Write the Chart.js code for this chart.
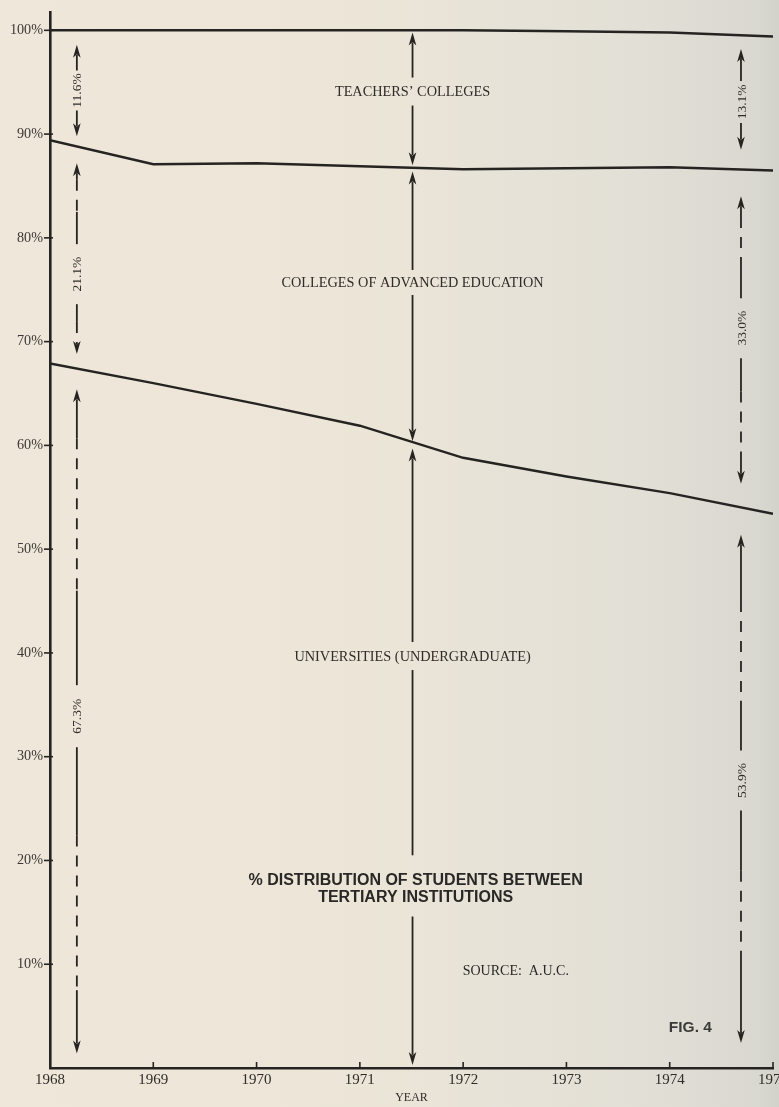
<!DOCTYPE html>
<html>
<head>
<meta charset="utf-8">
<script src="https://cdn.jsdelivr.net/npm/chart.js@4/dist/chart.umd.min.js"></script>
<style>
  html, body { margin: 0; padding: 0; overflow: hidden; background: #ece6d8; }
  #wrap { width: 800px; height: 1107px; }
</style>
</head>
<body>
<div id="wrap"><canvas id="c" width="800" height="1107"></canvas></div>
<script>
// ---- data (percent of students) ----
const years = [1968, 1969, 1970, 1971, 1972, 1973, 1974, 1975];
const totalPct = [100, 100, 100, 100, 100, 99.9, 99.8, 99.4];          // top boundary (100%)
const univPlusCaePct = [89.4, 87.1, 87.2, 86.9, 86.6, 86.7, 86.8, 86.5]; // universities + CAE
const univPct = [67.9, 66.0, 64.0, 61.9, 58.8, 57.0, 55.4, 53.4];        // universities
const yTickValues = [10, 20, 30, 40, 50, 60, 70, 80, 90, 100];
const xTickValues = [1968, 1969, 1970, 1971, 1972, 1973, 1974, 1975];

// dimension arrows: [year, top tip %, bottom tip %, label, label %, half gap px, rotation, dashed zones]
const leftArrows = [
  [1968.26, 98.6, 89.8, '11.6%', 94.2, 20, -90, []],
  [1968.26, 87.2, 68.8, '21.1%', 76.5, 30, -90, [[85.6, 82.5], [71.9, 69.6]]],
  [1968.26, 65.4, 1.4, '67.3%', 33.9, 31, -90, [[60.7, 46.0], [22.4, 7.5]]]
];
const rightArrows = [
  [1974.69, 98.2, 88.5, '13.1%', 93.1, 21, -90, []],
  [1974.69, 84.0, 56.3, '33.0%', 71.3, 30, -90, [[82.0, 77.2], [65.2, 59.4]]],
  [1974.69, 51.4, 2.4, '53.9%', 27.7, 30, -90, [[45.0, 35.4], [19.0, 10.9]]]
];
const middleArrows = [
  [1971.51, 99.8, 87.0, 'TEACHERS\u2019 COLLEGES', 94.1, 14, 0, []],
  [1971.51, 86.4, 60.4, 'COLLEGES OF ADVANCED EDUCATION', 75.7, 12.5, 0, []],
  [1971.51, 59.7, 0.3, 'UNIVERSITIES (UNDERGRADUATE)', 39.7, 14, 0, []]
];
const titleLines = ['% DISTRIBUTION OF STUDENTS BETWEEN', 'TERTIARY INSTITUTIONS'];
const titlePct = [18.1, 16.4];
const titleYear = 1971.54;
const titleGap = [20.5, 14.6];   // shaft interrupted by the title (percent range)
const sourceText = 'SOURCE:  A.U.C.';
const sourceAt = [1972.51, 9.3];
const figText = 'FIG. 4';
const figAt = [1974.2, 3.9];

const INK = '#262422';
const SERIF = '"Liberation Serif", "DejaVu Serif", serif';
const SANS = '"Liberation Sans", Arial, sans-serif';

function arrowHead(ctx, x, y, dir) {
  // dir = -1 : pointing up, +1 : pointing down
  ctx.beginPath();
  ctx.moveTo(x, y);
  ctx.lineTo(x - 3.8, y - dir * 13);
  ctx.lineTo(x, y - dir * 9.5);
  ctx.lineTo(x + 3.8, y - dir * 13);
  ctx.closePath();
  ctx.fill();
}

function drawShaft(ctx, x, a, b, gaps, dashZones) {
  const pts = new Set([a, b]);
  gaps.forEach(g => { pts.add(Math.min(Math.max(g[0], a), b)); pts.add(Math.min(Math.max(g[1], a), b)); });
  dashZones.forEach(z => { pts.add(Math.min(Math.max(z[0], a), b)); pts.add(Math.min(Math.max(z[1], a), b)); });
  const arr = Array.from(pts).sort((p, q) => p - q);
  for (let i = 0; i < arr.length - 1; i++) {
    const p = arr[i], q = arr[i + 1];
    if (q - p < 0.5) continue;
    const m = (p + q) / 2;
    if (gaps.some(g => m > g[0] && m < g[1])) continue;
    const dashed = dashZones.some(z => m > z[0] && m < z[1]);
    ctx.setLineDash(dashed ? [11, 9] : []);
    ctx.beginPath();
    ctx.moveTo(x, p);
    ctx.lineTo(x, q);
    ctx.stroke();
  }
  ctx.setLineDash([]);
}

const annotate = {
  id: 'annotate',
  beforeDraw(chart) {
    const ctx = chart.ctx;
    const g = ctx.createLinearGradient(0, 0, chart.width, 0);
    g.addColorStop(0, '#efe7d9');
    g.addColorStop(0.5, '#ebe5d8');
    g.addColorStop(0.8, '#e2dfd6');
    g.addColorStop(0.95, '#d9d8d0');
    g.addColorStop(1, '#cbcac4');
    ctx.save();
    ctx.fillStyle = g;
    ctx.fillRect(0, 0, chart.width, chart.height);
    ctx.restore();
  },
  afterDatasetsDraw(chart) {
    const ctx = chart.ctx;
    const xs = chart.scales.x, ys = chart.scales.y;
    ctx.save();
    ctx.strokeStyle = INK;
    ctx.fillStyle = INK;

    // tick marks
    ctx.lineWidth = 1.6;
    yTickValues.forEach(v => {
      const py = ys.getPixelForValue(v);
      ctx.beginPath(); ctx.moveTo(xs.left - 6, py); ctx.lineTo(xs.left + 3, py); ctx.stroke();
    });
    xTickValues.slice(1).forEach(v => {
      const px = xs.getPixelForValue(v);
      ctx.beginPath(); ctx.moveTo(px, ys.bottom + 1); ctx.lineTo(px, ys.bottom - 6); ctx.stroke();
    });

    const all = leftArrows.concat(rightArrows, middleArrows);
    all.forEach(ar => {
      const [yr, top, bot, label, lp, half, rot, zones] = ar;
      const x = xs.getPixelForValue(yr);
      const yTop = ys.getPixelForValue(top);
      const yBot = ys.getPixelForValue(bot);
      const yl = ys.getPixelForValue(lp);
      const gaps = [[yl - half, yl + half]];
      if (rot === 0 && bot < titlePct[1]) {
        gaps.push([ys.getPixelForValue(titleGap[0]), ys.getPixelForValue(titleGap[1])]);
      }
      const pxZones = zones.map(z => [ys.getPixelForValue(z[0]), ys.getPixelForValue(z[1])]);
      ctx.lineWidth = 1.8;
      drawShaft(ctx, x, yTop + 10, yBot - 10, gaps, pxZones);
      arrowHead(ctx, x, yTop, -1);
      arrowHead(ctx, x, yBot, 1);
      // label
      ctx.save();
      ctx.translate(x, yl);
      if (rot) ctx.rotate(rot * Math.PI / 180);
      ctx.textAlign = 'center';
      ctx.textBaseline = 'middle';
      ctx.fillStyle = '#2e2b28';
      ctx.font = rot ? '13.5px ' + SERIF : '14.3px ' + SERIF;
      ctx.fillText(label, 0, 1);
      ctx.restore();
    });

    // title
    ctx.textAlign = 'center';
    ctx.textBaseline = 'middle';
    ctx.fillStyle = '#2a2826';
    ctx.font = 'bold 16px ' + SANS;
    titleLines.forEach((t, i) => {
      ctx.fillText(t, xs.getPixelForValue(titleYear), ys.getPixelForValue(titlePct[i]));
    });
    ctx.font = '14px ' + SERIF;
    ctx.fillText(sourceText, xs.getPixelForValue(sourceAt[0]), ys.getPixelForValue(sourceAt[1]));
    ctx.font = 'bold 15.5px ' + SANS;
    ctx.fillStyle = '#3a3a38';
    ctx.fillText(figText, xs.getPixelForValue(figAt[0]), ys.getPixelForValue(figAt[1]));
    ctx.restore();
  }
};

const lineStyle = { borderColor: INK, borderWidth: 2.5, pointRadius: 0, tension: 0, fill: false };

new Chart(document.getElementById('c'), {
  type: 'line',
  data: {
    datasets: [
      Object.assign({ label: 'Total', data: years.map((y, i) => ({ x: y, y: totalPct[i] })) }, lineStyle),
      Object.assign({ label: 'Universities + CAE', data: years.map((y, i) => ({ x: y, y: univPlusCaePct[i] })) }, lineStyle),
      Object.assign({ label: 'Universities', data: years.map((y, i) => ({ x: y, y: univPct[i] })) }, lineStyle)
    ]
  },
  options: {
    responsive: false,
    animation: false,
    layout: { padding: { top: 10, right: 27, left: 0, bottom: 0 } },
    plugins: { legend: { display: false }, tooltip: { enabled: false } },
    scales: {
      x: {
        type: 'linear', min: 1968, max: 1975,
        afterFit: s => { s.height = 39; },
        afterBuildTicks: s => { s.ticks = xTickValues.map(v => ({ value: v })); },
        grid: { drawOnChartArea: false, drawTicks: false },
        border: { display: true, color: INK, width: 2.6 },
        ticks: {
          padding: 3, color: '#2e2b28', maxRotation: 0, autoSkip: false,
          font: { family: SERIF, size: 15 },
          callback: v => String(v)
        },
        title: { display: true, text: 'YEAR', color: '#2e2b28', font: { family: SERIF, size: 12 }, padding: { top: 0, bottom: 2 } }
      },
      y: {
        type: 'linear', min: 0, max: 101.7,
        afterFit: s => { s.width = 50; },
        afterBuildTicks: s => { s.ticks = yTickValues.map(v => ({ value: v })); },
        grid: { drawOnChartArea: false, drawTicks: false },
        border: { display: true, color: INK, width: 2.6 },
        ticks: {
          padding: 7, color: '#3a3734',
          font: { family: SERIF, size: 14.2, lineHeight: 0.8 },
          callback: v => v + '%'
        }
      }
    }
  },
  plugins: [annotate]
});
</script>
</body>
</html>
